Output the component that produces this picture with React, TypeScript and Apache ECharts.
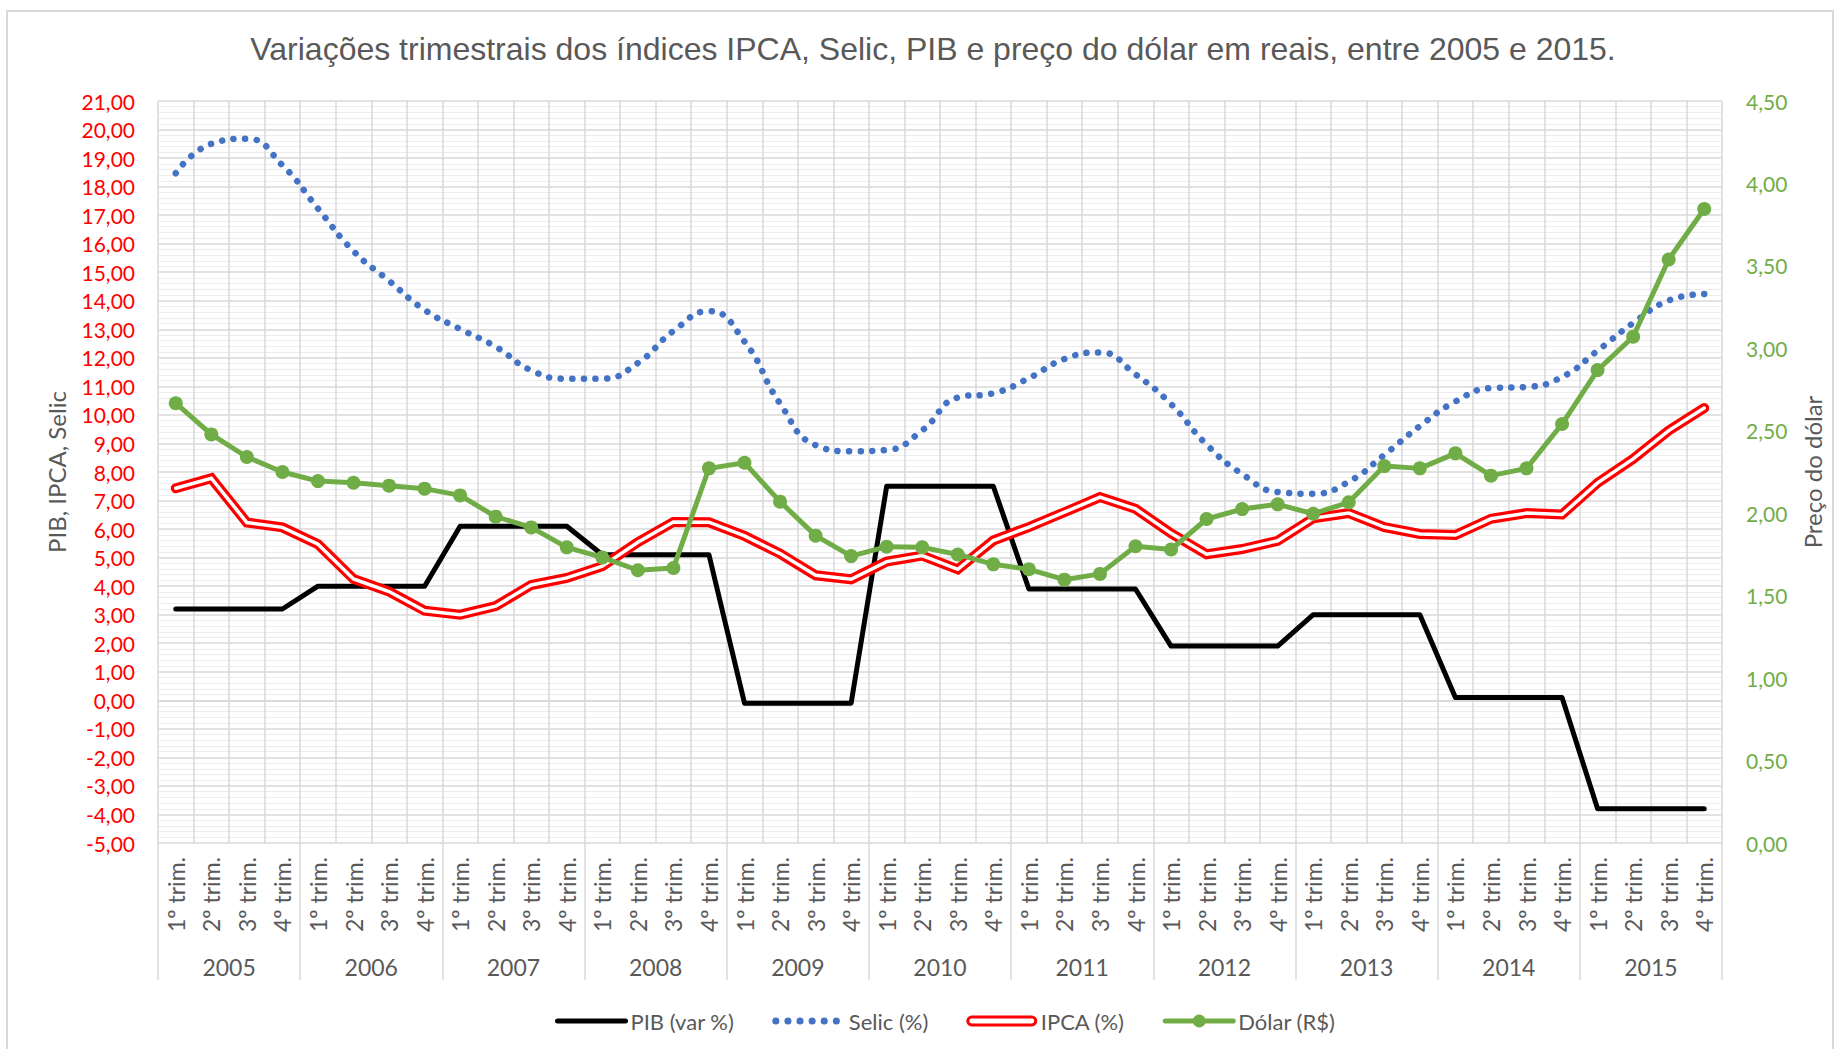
import React, { useEffect, useRef } from 'react';
import * as echarts from 'echarts';

const years = ['2005', '2006', '2007', '2008', '2009', '2010', '2011', '2012', '2013', '2014', '2015'];
const quarterNames = ['1º trim.', '2º trim.', '3º trim.', '4º trim.'];
const quarters = years.flatMap(() => quarterNames);

const pib = [
  3.2, 3.2, 3.2, 3.2, 4.0, 4.0, 4.0, 4.0, 6.1, 6.1, 6.1, 6.1,
  5.1, 5.1, 5.1, 5.1, -0.1, -0.1, -0.1, -0.1, 7.5, 7.5, 7.5, 7.5,
  3.9, 3.9, 3.9, 3.9, 1.9, 1.9, 1.9, 1.9, 3.0, 3.0, 3.0, 3.0,
  0.1, 0.1, 0.1, 0.1, -3.8, -3.8, -3.8, -3.8,
];

const selic = [
  18.47, 19.5, 19.68, 18.75, 17.23, 15.74, 14.7, 13.68, 13.01, 12.39, 11.56, 11.27,
  11.27, 11.82, 12.94, 13.64, 12.57, 10.4, 8.94, 8.73, 8.77, 9.46, 10.61, 10.76,
  11.29, 11.96, 12.19, 11.42, 10.38, 8.96, 7.93, 7.3, 7.24, 7.66, 8.6, 9.61,
  10.47, 10.94, 10.98, 11.33, 12.25, 13.22, 14.01, 14.24,
];

const ipca = [
  7.43, 7.78, 6.23, 6.06, 5.47, 4.25, 3.81, 3.14, 3.0, 3.3, 4.04, 4.29,
  4.7, 5.54, 6.25, 6.24, 5.76, 5.14, 4.38, 4.24, 4.86, 5.07, 4.59, 5.6,
  6.07, 6.59, 7.12, 6.71, 5.85, 5.12, 5.3, 5.59, 6.38, 6.56, 6.07, 5.83,
  5.79, 6.36, 6.56, 6.51, 7.62, 8.46, 9.45, 10.24,
];

const dolar = [
  2.667, 2.478, 2.341, 2.25, 2.195, 2.185, 2.167, 2.149, 2.108, 1.979, 1.914, 1.793,
  1.732, 1.654, 1.668, 2.272, 2.306, 2.07, 1.864, 1.74, 1.797, 1.793, 1.75, 1.69,
  1.66, 1.597, 1.632, 1.8, 1.78, 1.965, 2.025, 2.054, 1.997, 2.066, 2.286, 2.272,
  2.363, 2.228, 2.272, 2.541, 2.868, 3.07, 3.539, 3.845,
];

const TITLE = 'Variações trimestrais dos índices IPCA, Selic, PIB e preço do dólar em reais, entre 2005 e 2015.';
const GRAY = '#595959';
const GRID = '#d9d9d9';
const FONT = 'Lato';
const fmt = (v: number) => v.toFixed(2).replace('.', ',');

export default function App() {
  const ref = useRef<HTMLDivElement>(null);
  useEffect(() => {
    document.body.style.margin = '0';
    const chart = echarts.init(ref.current!, null, { renderer: 'svg' });
    chart.setOption({
      animation: false,
      backgroundColor: '#fff',
      textStyle: { fontFamily: FONT },
      title: {
        text: TITLE,
        left: 933,
        top: 33,
        padding: 0,
        textAlign: 'center',
        textStyle: { fontFamily: 'Liberation Sans', fontSize: 32, fontWeight: 'normal', color: GRAY },
      },
      graphic: [
        {
          type: 'rect',
          silent: true,
          z: -10,
          shape: { x: 7, y: 11, width: 1826, height: 1070 },
          style: { fill: 'none', stroke: GRID, lineWidth: 2 },
        },
      ],
      grid: { left: 158, right: 118, top: 101, bottom: 206, containLabel: false },
      legend: {
        left: 550,
        top: 1005,
        itemWidth: 68,
        itemHeight: 16,
        itemGap: 38,
        selectedMode: false,
        textStyle: { fontFamily: FONT, fontSize: 22, color: GRAY },
        data: [
          { name: 'PIB (var %)', itemStyle: { opacity: 0 }, lineStyle: { width: 5, color: '#000', cap: 'round' } },
          {
            name: 'Selic (%)',
            itemStyle: { opacity: 0 },
            lineStyle: { width: 7, color: '#4472c4', type: [0.1, 12], cap: 'round' },
          },
          {
            name: 'IPCA (%)',
            icon: 'path://M4,0H66A4,4,0,0,1,66,8H4A4,4,0,0,1,4,0Z',
            itemStyle: { color: '#fff', borderColor: '#ff0000', borderWidth: 3 },
          },
          { name: 'Dólar (R$)', lineStyle: { width: 5, color: '#70ad47', cap: 'round' } },
        ],
      },
      xAxis: [
        {
          type: 'category',
          data: quarters,
          boundaryGap: true,
          position: 'bottom',
          axisLine: { show: true, lineStyle: { color: GRID, width: 1.5 } },
          axisTick: { show: false },
          axisLabel: { interval: 0, rotate: 90, margin: 14, fontSize: 23, color: GRAY, fontFamily: FONT },
          splitLine: { show: true, interval: 0, lineStyle: { color: GRID, width: 1.5 } },
        },
        {
          type: 'category',
          data: years,
          boundaryGap: true,
          position: 'bottom',
          axisLine: { show: false },
          axisTick: { show: true, interval: 0, length: 137, lineStyle: { color: GRID, width: 1.5 } },
          axisLabel: { interval: 0, margin: 112, fontSize: 23, color: GRAY, fontFamily: FONT },
          splitLine: { show: false },
        },
      ],
      yAxis: [
        {
          type: 'value',
          min: -5,
          max: 21,
          interval: 1,
          position: 'left',
          name: 'PIB, IPCA, Selic',
          nameLocation: 'middle',
          nameGap: 90,
          nameRotate: 90,
          nameTextStyle: { fontFamily: FONT, fontSize: 24, color: GRAY },
          axisLine: { show: false },
          axisTick: { show: false },
          axisLabel: { formatter: fmt, color: '#ff0000', fontSize: 21, margin: 23, fontFamily: FONT },
          splitLine: { show: true, lineStyle: { color: GRID, width: 1.5 } },
          minorTick: { show: false, splitNumber: 5 },
          minorSplitLine: { show: true, lineStyle: { color: '#ededed', width: 1 } },
        },
        {
          type: 'value',
          min: 0,
          max: 4.5,
          interval: 0.5,
          position: 'right',
          name: 'Preço do dólar',
          nameLocation: 'middle',
          nameGap: 78,
          nameRotate: 90,
          nameTextStyle: { fontFamily: FONT, fontSize: 24, color: GRAY },
          axisLine: { show: false },
          axisTick: { show: false },
          axisLabel: { formatter: fmt, color: '#70ad47', fontSize: 21, margin: 24, fontFamily: FONT },
          splitLine: { show: false },
        },
      ],
      series: [
        {
          name: 'PIB (var %)',
          type: 'line',
          data: pib,
          symbol: 'none',
          itemStyle: { color: '#000' },
          lineStyle: { color: '#000', width: 5, cap: 'round', join: 'round' },
        },
        {
          name: 'Selic (%)',
          type: 'line',
          data: selic,
          smooth: 0.5,
          symbol: 'none',
          itemStyle: { color: '#4472c4' },
          lineStyle: { color: '#4472c4', width: 6.5, type: [0.1, 11.5], cap: 'round' },
        },
        {
          name: 'IPCA (%)',
          type: 'line',
          data: ipca,
          symbol: 'none',
          itemStyle: { color: '#ff0000' },
          lineStyle: { color: '#ff0000', width: 10, cap: 'round', join: 'miter' },
        },
        {
          name: 'IPCA interior',
          type: 'line',
          data: ipca,
          symbol: 'none',
          silent: true,
          itemStyle: { color: '#fff' },
          lineStyle: { color: '#fff', width: 3.5, cap: 'round', join: 'miter' },
        },
        {
          name: 'Dólar (R$)',
          type: 'line',
          yAxisIndex: 1,
          data: dolar,
          symbol: 'circle',
          symbolSize: 14,
          itemStyle: { color: '#70ad47' },
          lineStyle: { color: '#70ad47', width: 5 },
        },
      ],
    });
    return () => chart.dispose();
  }, []);
  return <div ref={ref} style={{ width: 1840, height: 1049 }} />;
}
